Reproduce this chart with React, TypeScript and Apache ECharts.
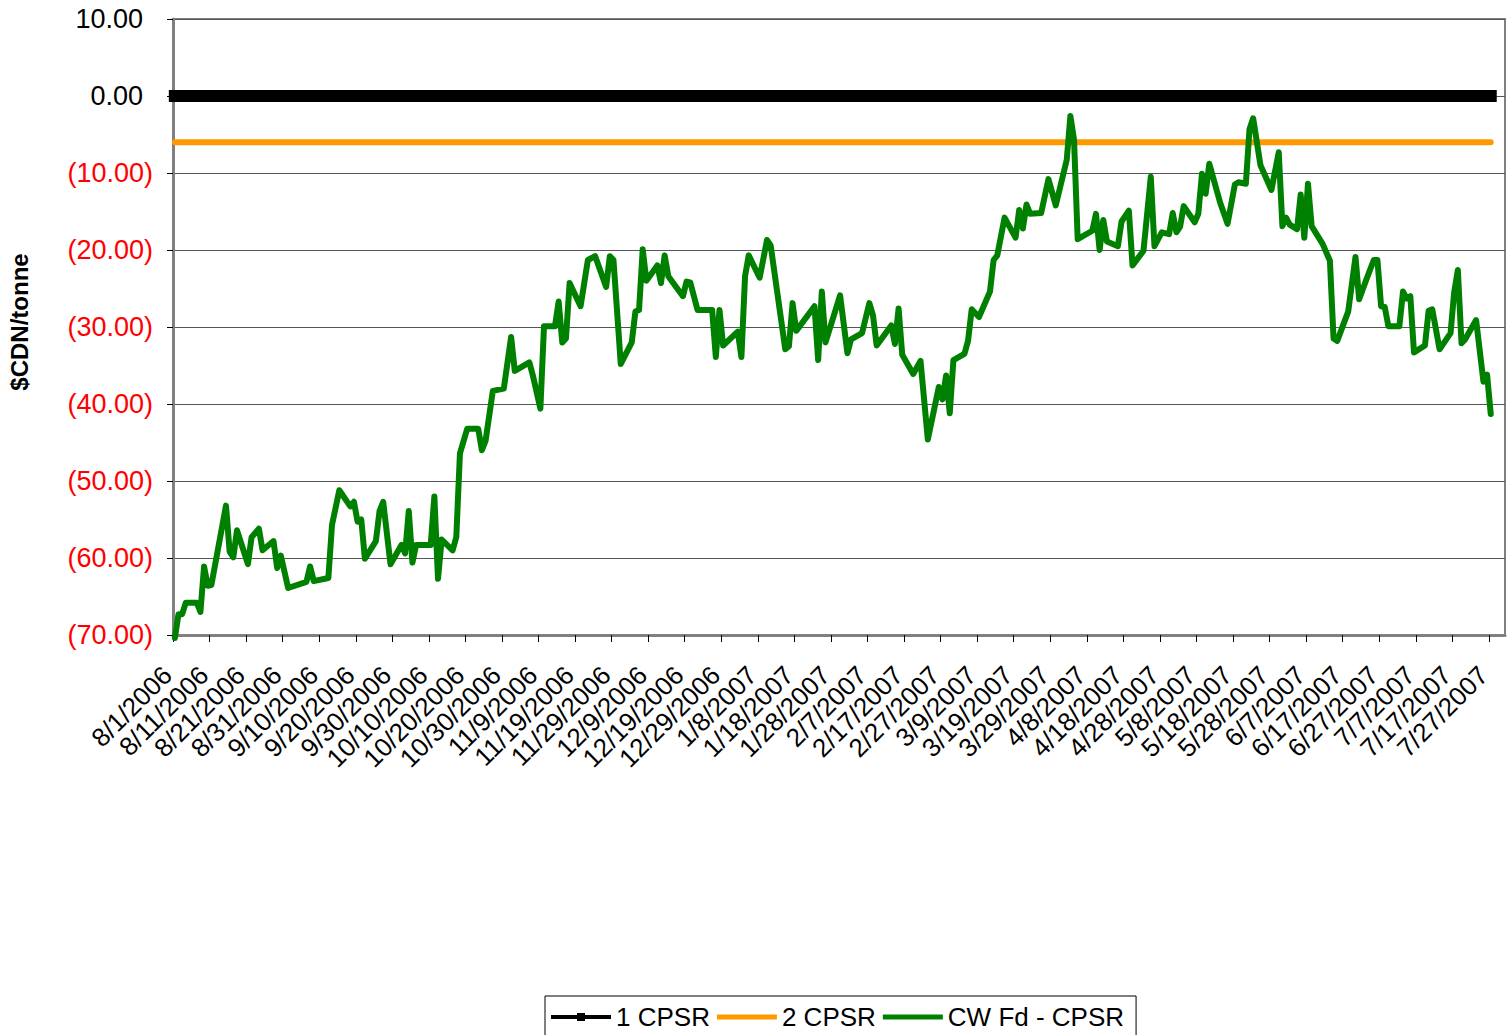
import React, { useEffect, useRef } from "react";
import * as echarts from "echarts";

// ---- data ----
const seriesNames = ["1 CPSR", "2 CPSR", "CW Fd - CPSR"];
const cpsr1Level = 0;
const cpsr2Level = -6;
const axisStart = "2006-08-01";
const axisSpanDays = 364.4;
const yMin = -70;
const yMax = 10;
const yStep = 10;
const xStepDays = 10;

const cwFdCpsr: [string, number][] = [
  ["2006-08-01", -70.4], ["2006-08-02", -67.3], ["2006-08-03", -67.3], ["2006-08-04", -65.8],
  ["2006-08-07", -65.8], ["2006-08-08", -67.0], ["2006-08-09", -61.1], ["2006-08-10", -63.6],
  ["2006-08-11", -63.5], ["2006-08-15", -53.2], ["2006-08-16", -59.2], ["2006-08-17", -59.9],
  ["2006-08-18", -56.4], ["2006-08-21", -60.8], ["2006-08-22", -57.3], ["2006-08-24", -56.2],
  ["2006-08-25", -59.0], ["2006-08-28", -57.8], ["2006-08-29", -61.3], ["2006-08-30", -59.7],
  ["2006-09-01", -63.9], ["2006-09-06", -63.1], ["2006-09-07", -61.1], ["2006-09-08", -63.0],
  ["2006-09-12", -62.6], ["2006-09-13", -55.7], ["2006-09-15", -51.2], ["2006-09-18", -53.3],
  ["2006-09-19", -52.7], ["2006-09-20", -55.3], ["2006-09-21", -55.0], ["2006-09-22", -60.1],
  ["2006-09-25", -57.8], ["2006-09-26", -53.9], ["2006-09-27", -52.7], ["2006-09-29", -60.8],
  ["2006-10-02", -58.3], ["2006-10-03", -59.4], ["2006-10-04", -53.9], ["2006-10-05", -60.6],
  ["2006-10-06", -58.3], ["2006-10-10", -58.3], ["2006-10-11", -52.0], ["2006-10-12", -62.7],
  ["2006-10-13", -57.6], ["2006-10-16", -59.0], ["2006-10-17", -57.3], ["2006-10-18", -46.4],
  ["2006-10-20", -43.2], ["2006-10-23", -43.2], ["2006-10-24", -46.0], ["2006-10-25", -44.8],
  ["2006-10-27", -38.3], ["2006-10-30", -38.0], ["2006-11-01", -31.3], ["2006-11-02", -35.7],
  ["2006-11-06", -34.6], ["2006-11-07", -36.4], ["2006-11-09", -40.6], ["2006-11-10", -29.9],
  ["2006-11-13", -29.9], ["2006-11-14", -26.7], ["2006-11-15", -32.0], ["2006-11-16", -31.5],
  ["2006-11-17", -24.3], ["2006-11-20", -27.3], ["2006-11-22", -21.3], ["2006-11-24", -20.8],
  ["2006-11-27", -24.8], ["2006-11-28", -20.8], ["2006-11-29", -21.3], ["2006-12-01", -34.8],
  ["2006-12-04", -32.0], ["2006-12-05", -28.0], ["2006-12-06", -27.8], ["2006-12-07", -19.9],
  ["2006-12-08", -24.0], ["2006-12-11", -22.0], ["2006-12-12", -24.3], ["2006-12-13", -20.7],
  ["2006-12-14", -23.4], ["2006-12-18", -26.0], ["2006-12-19", -24.1], ["2006-12-20", -24.2],
  ["2006-12-22", -27.8], ["2006-12-26", -27.8], ["2006-12-27", -33.9], ["2006-12-28", -27.8],
  ["2006-12-29", -32.4], ["2007-01-02", -30.6], ["2007-01-03", -33.9], ["2007-01-04", -23.4],
  ["2007-01-05", -20.7], ["2007-01-08", -23.6], ["2007-01-10", -18.7], ["2007-01-11", -19.4],
  ["2007-01-15", -32.9], ["2007-01-16", -32.5], ["2007-01-17", -26.9], ["2007-01-18", -30.5],
  ["2007-01-23", -27.3], ["2007-01-24", -34.3], ["2007-01-25", -25.4], ["2007-01-26", -32.0],
  ["2007-01-30", -25.9], ["2007-02-01", -33.4], ["2007-02-02", -31.6], ["2007-02-05", -30.8],
  ["2007-02-07", -26.9], ["2007-02-08", -28.5], ["2007-02-09", -32.4], ["2007-02-13", -29.8],
  ["2007-02-14", -32.2], ["2007-02-15", -27.6], ["2007-02-16", -33.6], ["2007-02-19", -36.1],
  ["2007-02-21", -34.4], ["2007-02-23", -44.6], ["2007-02-26", -37.8], ["2007-02-27", -39.4],
  ["2007-02-28", -36.3], ["2007-03-01", -41.2], ["2007-03-02", -34.3], ["2007-03-05", -33.5],
  ["2007-03-06", -31.8], ["2007-03-07", -27.7], ["2007-03-09", -28.7], ["2007-03-12", -25.4],
  ["2007-03-13", -21.3], ["2007-03-14", -20.7], ["2007-03-16", -15.8], ["2007-03-19", -18.4],
  ["2007-03-20", -14.8], ["2007-03-21", -17.2], ["2007-03-22", -14.1], ["2007-03-23", -15.3],
  ["2007-03-26", -15.2], ["2007-03-28", -10.8], ["2007-03-30", -14.2], ["2007-04-02", -8.3],
  ["2007-04-03", -2.6], ["2007-04-04", -5.7], ["2007-04-05", -18.6], ["2007-04-09", -17.5],
  ["2007-04-10", -15.3], ["2007-04-11", -20.0], ["2007-04-12", -16.1], ["2007-04-13", -18.9],
  ["2007-04-16", -19.5], ["2007-04-17", -16.3], ["2007-04-19", -14.9], ["2007-04-20", -22.0],
  ["2007-04-23", -20.1], ["2007-04-25", -10.5], ["2007-04-26", -19.5], ["2007-04-28", -17.7],
  ["2007-04-30", -17.95], ["2007-05-01", -15.2], ["2007-05-02", -17.7], ["2007-05-03", -17.0],
  ["2007-05-04", -14.3], ["2007-05-07", -16.4], ["2007-05-08", -15.3], ["2007-05-09", -10.1],
  ["2007-05-10", -12.7], ["2007-05-11", -8.8], ["2007-05-14", -13.9], ["2007-05-16", -16.6],
  ["2007-05-18", -11.5], ["2007-05-19", -11.2], ["2007-05-21", -11.4], ["2007-05-22", -4.3],
  ["2007-05-23", -2.9], ["2007-05-25", -9.0], ["2007-05-28", -12.2], ["2007-05-30", -7.3],
  ["2007-05-31", -16.9], ["2007-06-01", -15.8], ["2007-06-02", -16.7], ["2007-06-04", -17.3],
  ["2007-06-05", -12.8], ["2007-06-06", -18.4], ["2007-06-07", -11.4], ["2007-06-08", -16.9],
  ["2007-06-11", -19.2], ["2007-06-13", -21.4], ["2007-06-14", -31.5], ["2007-06-15", -31.8],
  ["2007-06-18", -28.0], ["2007-06-20", -20.9], ["2007-06-21", -26.4], ["2007-06-23", -23.8],
  ["2007-06-25", -21.3], ["2007-06-26", -21.3], ["2007-06-27", -27.3], ["2007-06-28", -27.4],
  ["2007-06-29", -29.9], ["2007-07-02", -29.9], ["2007-07-03", -25.4], ["2007-07-04", -26.3],
  ["2007-07-05", -26.0], ["2007-07-06", -33.3], ["2007-07-09", -32.4], ["2007-07-10", -27.9],
  ["2007-07-11", -27.7], ["2007-07-13", -32.9], ["2007-07-16", -30.8], ["2007-07-17", -25.5],
  ["2007-07-18", -22.6], ["2007-07-19", -32.1], ["2007-07-20", -31.6], ["2007-07-23", -29.1],
  ["2007-07-25", -37.1], ["2007-07-26", -36.2], ["2007-07-27", -41.3],
];

// ---- helpers ----
const DAY_MS = 86400000;
const parseUTC = (s: string) => {
  const [y, m, d] = s.split("-").map(Number);
  return Date.UTC(y, m - 1, d);
};
const t0 = parseUTC(axisStart);
// Date axis with one slot per day; a day's point sits in the middle of its slot.
const dayPos = (s: string) => (parseUTC(s) - t0) / DAY_MS + 0.5;
const dayLabel = (v: number) => {
  const dt = new Date(t0 + Math.round(v) * DAY_MS);
  return `${dt.getUTCMonth() + 1}/${dt.getUTCDate()}/${dt.getUTCFullYear()}`;
};

const FONT = '"Liberation Sans", Arial, Helvetica, sans-serif';

export default function App() {
  const ref = useRef<HTMLDivElement>(null);

  useEffect(() => {
    if (!ref.current) return;
    const chart = echarts.init(ref.current, undefined, { renderer: "svg" });

    const dates = cwFdCpsr.map((p) => p[0]);
    const black = dates.map((d) => [dayPos(d), cpsr1Level]);
    const orange = dates.map((d) => [dayPos(d), cpsr2Level]);
    const green = cwFdCpsr.map(([d, v]) => [dayPos(d), v]);

    chart.setOption({
      animation: false,
      backgroundColor: "#ffffff",
      textStyle: { fontFamily: FONT },
      grid: {
        left: 173,
        right: 3,
        top: 19,
        bottom: 400,
        show: true,
        borderColor: "#808080",
        borderWidth: 2,
        backgroundColor: "transparent",
        outerBoundsMode: "none",
      },
      legend: {
        show: true,
        selectedMode: false,
        orient: "horizontal",
        left: 545,
        top: 996,
        itemWidth: 60,
        itemHeight: 8,
        itemGap: 7,
        itemTextGap: 1,
        padding: [8, 12, 40, 6],
        borderColor: "#000000",
        borderWidth: 1,
        backgroundColor: "#ffffff",
        textStyle: { fontSize: 26, color: "#000000", fontFamily: FONT },
        data: [
          { name: seriesNames[0], icon: "path://M0,2H26V0H34V2H60V6H34V8H26V6H0Z" },
          { name: seriesNames[1], icon: "path://M0,0H60V5H0Z" },
          { name: seriesNames[2], icon: "path://M0,0H60V5H0Z" },
        ],
      },
      xAxis: {
        type: "value",
        min: 0,
        max: axisSpanDays,
        interval: xStepDays,
        axisLine: { show: true, onZero: false, lineStyle: { color: "#808080", width: 3 } },
        axisTick: { show: true, length: 7, lineStyle: { color: "#000000", width: 1 } },
        splitLine: { show: false },
        axisLabel: {
          show: true,
          rotate: 45,
          margin: 30,
          padding: [0, 8, 0, 0],
          fontSize: 26,
          color: "#000000",
          fontFamily: FONT,
          showMaxLabel: false,
          showMinLabel: true,
          hideOverlap: false,
          formatter: (v: number) => dayLabel(v),
        },
      },
      yAxis: {
        type: "value",
        min: yMin,
        max: yMax,
        interval: yStep,
        name: "$CDN/tonne",
        nameLocation: "middle",
        nameGap: 142,
        nameTextStyle: {
          fontSize: 24,
          fontWeight: "bold",
          color: "#000000",
          fontFamily: FONT,
          padding: [0, 0, 0, 10],
        },
        axisLine: { show: true, lineStyle: { color: "#808080", width: 3 } },
        axisTick: { show: true, length: 6, lineStyle: { color: "#000000", width: 1 } },
        splitLine: { show: true, lineStyle: { color: "#555555", width: 1 } },
        axisLabel: {
          show: true,
          margin: 20,
          fontFamily: FONT,
          formatter: (v: number) =>
            v < 0 ? `{neg|(${Math.abs(v).toFixed(2)})}` : `{pos|${v.toFixed(2)}}`,
          rich: {
            neg: { color: "#ff0000", fontSize: 27, fontFamily: FONT },
            pos: { color: "#000000", fontSize: 27, fontFamily: FONT, padding: [0, 10, 0, 0] },
          },
        },
      },
      series: [
        {
          name: seriesNames[0],
          type: "line",
          data: black,
          color: "#000000",
          symbol: "rect",
          symbolSize: 12,
          showSymbol: true,
          showAllSymbol: true,
          clip: false,
          lineStyle: { color: "#000000", width: 12 },
          itemStyle: { color: "#000000" },
          z: 2,
        },
        {
          name: seriesNames[1],
          type: "line",
          data: orange,
          color: "#ff9900",
          symbol: "none",
          showSymbol: false,
          clip: false,
          lineStyle: { color: "#ff9900", width: 6, cap: "round" },
          z: 3,
        },
        {
          name: seriesNames[2],
          type: "line",
          data: green,
          color: "#008000",
          symbol: "none",
          showSymbol: false,
          clip: false,
          lineStyle: { color: "#008000", width: 6, cap: "round", join: "round" },
          z: 4,
        },
      ],
    });

    return () => chart.dispose();
  }, []);

  return (
    <div
      ref={ref}
      style={{ position: "fixed", left: 0, top: 0, width: 1508, height: 1035, background: "#fff" }}
    />
  );
}
